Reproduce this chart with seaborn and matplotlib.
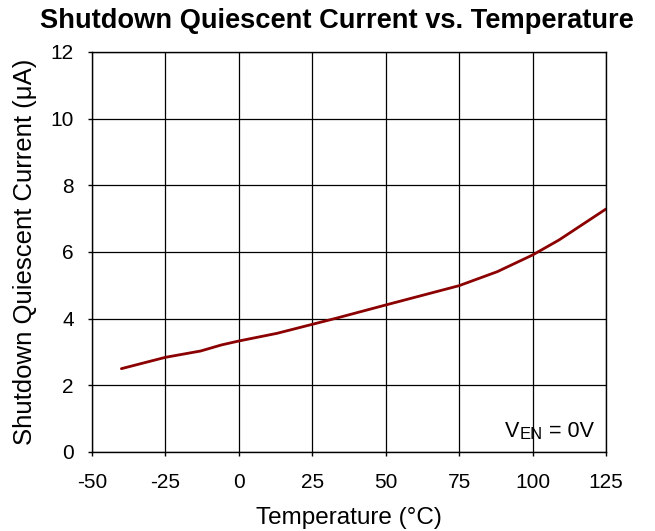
import matplotlib
matplotlib.use("Agg")
import matplotlib.pyplot as plt
import seaborn as sns
import pandas as pd

# Данные
temperature = [-40, -25, -13, -6, 0, 13, 25, 33, 50, 75, 88, 100, 109, 125]
current_ua = [2.50, 2.84, 3.03, 3.21, 3.33, 3.56, 3.83, 4.01, 4.41, 4.99, 5.41, 5.91, 6.36, 7.29]
x_ticks = [-50, -25, 0, 25, 50, 75, 100, 125]
y_ticks = [0, 2, 4, 6, 8, 10, 12]

data = pd.DataFrame({'temp': temperature, 'iq': current_ua})

sns.set_style("white")
plt.rcParams['font.family'] = ['Liberation Sans', 'DejaVu Sans']
plt.rcParams['axes.unicode_minus'] = False
plt.rcParams['text.color'] = 'black'
plt.rcParams['axes.labelcolor'] = 'black'
plt.rcParams['xtick.color'] = 'black'
plt.rcParams['ytick.color'] = 'black'

fig = plt.figure(figsize=(6.55, 5.31), dpi=100)
ax = fig.add_axes([0.1405, 0.1488, 0.7847, 0.7533])

sns.lineplot(data=data, x='temp', y='iq', color='#8b0000', linewidth=2, ax=ax)

ax.set_xlim(-50, 125)
ax.set_ylim(0, 12)
ax.set_xticks(x_ticks)
ax.set_yticks(y_ticks)
ax.tick_params(labelsize=15, direction='out', length=3, width=1, color='black',
               bottom=True, left=True)
ax.tick_params(axis='x', pad=12)
ax.tick_params(axis='y', pad=10)
ax.grid(True, color='black', linewidth=0.9)
for s in ax.spines.values():
    s.set_color('black')
    s.set_linewidth(1)

ax.set_xlabel('Temperature (°C)', fontsize=17.5, labelpad=11)
ax.set_ylabel('Shutdown Quiescent Current (μA)', fontsize=18.5, labelpad=10)
ax.set_title('Shutdown Quiescent Current vs. Temperature', fontsize=19.6,
             fontweight='bold', pad=17, x=0.476)

# Подпись V_EN = 0V
t1 = ax.text(0.804, 0.037, 'V', transform=ax.transAxes, fontsize=15.5)
t2 = ax.annotate('EN', xy=(1, 0), xycoords=t1, fontsize=12, va='bottom')
ax.annotate(' = 0V', xy=(1, 0), xycoords=t2, fontsize=15.5, va='bottom')

fig.savefig('out.png', dpi=100)
